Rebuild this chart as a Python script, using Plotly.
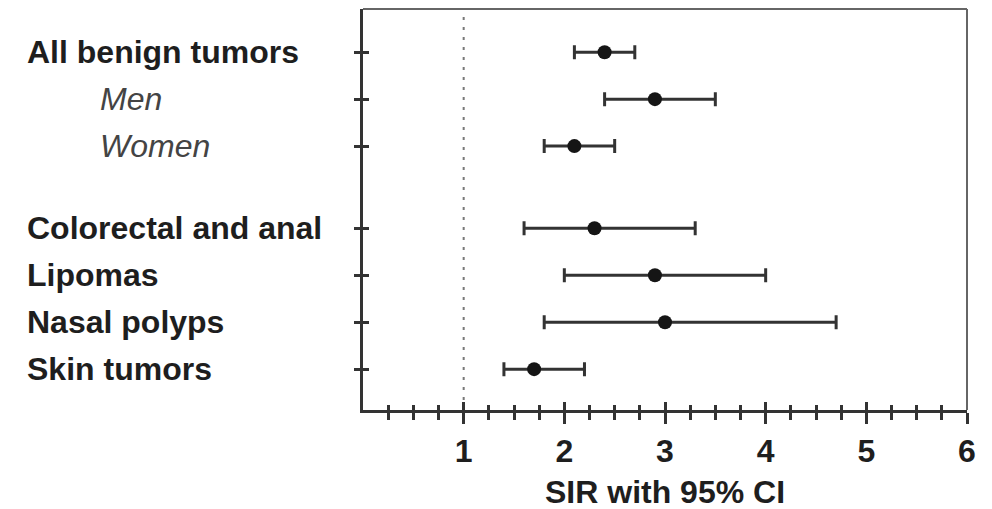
import plotly.graph_objects as go

categories = ["All benign tumors", "Men", "Women", "Colorectal and anal",
              "Lipomas", "Nasal polyps", "Skin tumors"]
is_sub = [False, True, True, False, False, False, False]
sir = [2.4, 2.9, 2.1, 2.3, 2.9, 3.0, 1.7]
ci_low = [2.1, 2.4, 1.8, 1.6, 2.0, 1.8, 1.4]
ci_high = [2.7, 3.5, 2.5, 3.3, 4.0, 4.7, 2.2]
x_ticks = [1, 2, 3, 4, 5, 6]

# layout: row positions (a gap separates the overall group from the sites)
row_pos = [0, 1, 2, 3.75, 4.75, 5.75, 6.75]

FONT = "Liberation Sans, Arial, sans-serif"
FS = 32
TC = "#333333"

fig = go.Figure()
fig.add_trace(go.Scatter(
    x=sir, y=row_pos, mode="markers",
    marker=dict(symbol="circle", size=14, color="#151515"),
    error_x=dict(type="data", symmetric=False,
                 array=[h - s for h, s in zip(ci_high, sir)],
                 arrayminus=[s - l for s, l in zip(sir, ci_low)],
                 color="#333333", thickness=3, width=7),
    showlegend=False, hoverinfo="skip"))
# transparent copy on the overlay axes so that their inside ticks render
fig.add_trace(go.Scatter(x=sir, y=row_pos, xaxis="x2", yaxis="y2",
                         mode="markers", marker=dict(opacity=0, size=1),
                         showlegend=False, hoverinfo="skip"))

minor_vals = [k * 0.25 for k in range(1, 24) if k % 4 != 0]
xr = [0, 6]
yr = [7.62, -0.92]

fig.update_layout(
    width=992, height=509,
    margin=dict(l=363, r=25, t=9, b=99),
    plot_bgcolor="white", paper_bgcolor="white",
    font=dict(family=FONT, size=FS, color="#1e1e1e"),
    xaxis=dict(range=xr, showgrid=False, zeroline=False,
               showline=True, linecolor="#333333", linewidth=3,
               tickmode="array", tickvals=x_ticks,
               ticktext=[f"<b>{v}</b>" for v in x_ticks],
               ticks="outside", ticklen=11, tickwidth=2.5, tickcolor=TC,
               minor=dict(tickvals=minor_vals, ticks="outside", ticklen=7,
                          tickwidth=2.5, tickcolor=TC),
               tickfont=dict(size=FS, family=FONT, color="#1e1e1e")),
    xaxis2=dict(range=xr, overlaying="x", anchor="y2", side="bottom",
                showgrid=False, zeroline=False, showline=False,
                tickmode="array", tickvals=x_ticks, showticklabels=False,
                ticks="inside", ticklen=8, tickwidth=2.5, tickcolor=TC,
                minor=dict(tickvals=minor_vals, ticks="inside", ticklen=5,
                           tickwidth=2.5, tickcolor=TC)),
    yaxis=dict(range=yr, showgrid=False, zeroline=False,
               showline=True, linecolor="#333333", linewidth=3,
               tickmode="array", tickvals=row_pos, showticklabels=False,
               ticks="outside", ticklen=6, tickwidth=3, tickcolor=TC),
    yaxis2=dict(range=yr, overlaying="y", anchor="x2", side="left",
                showgrid=False, zeroline=False, showline=False,
                tickmode="array", tickvals=row_pos, showticklabels=False,
                ticks="inside", ticklen=6, tickwidth=3, tickcolor=TC),
)

# frame top and right (thinner grey)
fig.add_shape(type="line", xref="paper", yref="paper", x0=0, x1=1, y0=1, y1=1,
              line=dict(color="#666666", width=2))
fig.add_shape(type="line", xref="paper", yref="paper", x0=1, x1=1, y0=0, y1=1,
              line=dict(color="#666666", width=2))
# reference line at SIR = 1
fig.add_shape(type="line", xref="x", yref="paper", x0=1, x1=1, y0=0, y1=1,
              line=dict(color="#777777", width=2, dash="3px,7px"), layer="below")

# row labels
for cat, pos, sub in zip(categories, row_pos, is_sub):
    if sub:
        txt = f"<i>{cat}</i>"
        xp = (98 - 363) / 604
        col = "#444444"
    else:
        txt = f"<b>{cat}</b>"
        xp = (25 - 363) / 604
        col = "#1e1e1e"
    fig.add_annotation(x=xp, xref="paper", y=pos, yref="y", text=txt,
                       showarrow=False, xanchor="left", yanchor="middle",
                       font=dict(family=FONT, size=FS, color=col))

# axis title
fig.add_annotation(x=0.5, xref="paper", y=-82 / 401, yref="paper",
                   text="<b>SIR with 95% CI</b>", showarrow=False,
                   xanchor="center", yanchor="middle",
                   font=dict(family=FONT, size=FS, color="#1e1e1e"))

fig.write_html("out.html")
